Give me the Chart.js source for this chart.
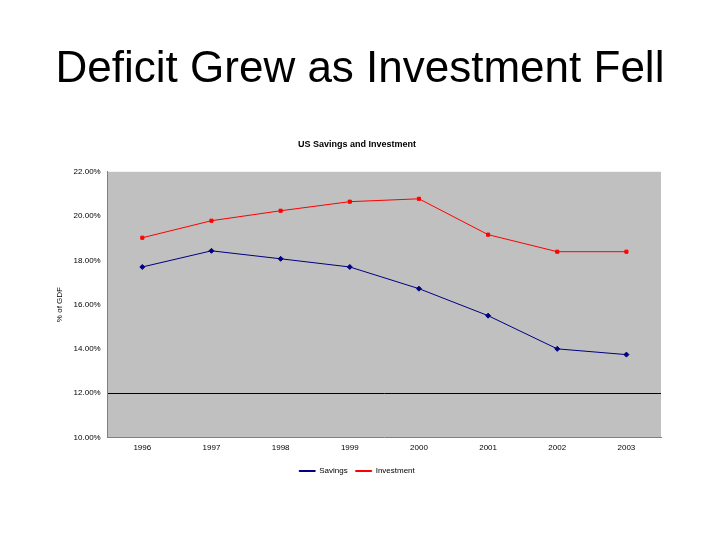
<!DOCTYPE html>
<html>
<head>
<meta charset="utf-8">
<script src="https://cdn.jsdelivr.net/npm/chart.js@4"></script>
<style>
    body { margin: 0; background: #ffffff; }
    #wrap { position: relative; width: 720px; height: 540px; }
    #headline {
        position: absolute; left: 0; top: 42px; width: 720px;
        text-align: center; font-family: "Liberation Sans", Arial, sans-serif;
        font-size: 44px; color: #000;
    }
    #chart-box { position: absolute; left: 0; top: 0; width: 720px; height: 540px; }
</style>
</head>
<body>
<div id="wrap">
    <div id="chart-box"><canvas id="savings-chart" width="720" height="540"></canvas></div>
    <div id="headline">Deficit Grew as Investment Fell</div>
</div>
<script>
const years = ['1996', '1997', '1998', '1999', '2000', '2001', '2002', '2003'];
const savings = [17.7, 18.43, 18.07, 17.7, 16.72, 15.5, 14.0, 13.74];
const investment = [19.02, 19.79, 20.24, 20.65, 20.78, 19.16, 18.39, 18.39];
const yTicks = [10, 12, 14, 16, 18, 20, 22];

// Fill the plot area grey like the old spreadsheet chart
const plotBackground = {
    id: 'plotBackground',
    beforeDraw(chart) {
        const { ctx, chartArea } = chart;
        ctx.save();
        ctx.fillStyle = '#c0c0c0';
        ctx.fillRect(chartArea.left, chartArea.top, chartArea.right - chartArea.left, chartArea.bottom - chartArea.top);
        ctx.restore();
    }
};

const font = { family: '"Liberation Sans", Arial, sans-serif', size: 8 };

new Chart(document.getElementById('savings-chart'), {
    type: 'line',
    data: {
        labels: years,
        datasets: [{
            label: 'Savings',
            data: savings,
            borderColor: '#000080',
            backgroundColor: '#000080',
            borderWidth: 1,
            pointStyle: 'rectRot',
            pointRadius: 2.5,
            tension: 0
        }, {
            label: 'Investment',
            data: investment,
            borderColor: '#ff0000',
            backgroundColor: '#ff0000',
            borderWidth: 1,
            pointStyle: 'rect',
            pointRadius: 2.2,
            tension: 0
        }]
    },
    options: {
        responsive: false,
        animation: false,
        layout: { padding: { left: 53, right: 59, top: 139, bottom: 55 } },
        plugins: {
            title: {
                display: true,
                text: 'US Savings and Investment',
                color: '#000',
                font: { family: font.family, size: 9, weight: 'bold' },
                padding: { top: 0, bottom: 22 }
            },
            legend: {
                position: 'bottom',
                labels: {
                    color: '#000',
                    font: font,
                    boxWidth: 16,
                    boxHeight: 1,
                    padding: 8
                }
            },
            tooltip: { enabled: false }
        },
        scales: {
            x: {
                offset: true,
                grid: { display: false, drawTicks: false },
                border: { color: '#808080' },
                ticks: { color: '#000', font: font, padding: 6, maxRotation: 0 }
            },
            y: {
                min: 10,
                max: 22,
                afterBuildTicks: axis => { axis.ticks = yTicks.map(v => ({ value: v })); },
                grid: {
                    color: c => c.tick && c.tick.value === 12 ? '#000000' : 'rgba(0,0,0,0)',
                    drawTicks: false
                },
                border: { color: '#808080' },
                ticks: {
                    color: '#000',
                    font: font,
                    padding: 7,
                    callback: v => v.toFixed(2) + '%'
                },
                title: {
                    display: true,
                    text: '% of GDF',
                    color: '#000',
                    font: font,
                    padding: 2
                }
            }
        }
    },
    plugins: [plotBackground]
});
</script>
</body>
</html>
